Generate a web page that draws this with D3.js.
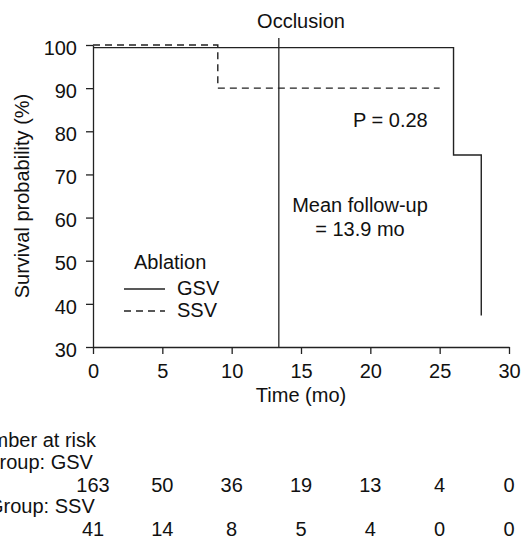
<!DOCTYPE html>
<html>
<head>
<meta charset="utf-8">
<script src="https://cdn.jsdelivr.net/npm/d3@7"></script>
<style>
  body { margin: 0; background: #fff; }
  svg { display: block; font-family: "Liberation Sans", Arial, Helvetica, sans-serif; }
  .axis path, .axis line { stroke: #222; stroke-width: 1.3; }
  .axis text { font-size: 20px; fill: #111; font-family: "Liberation Sans", Arial, sans-serif; }
  text { fill: #111; }
</style>
</head>
<body>
<svg class="svg"></svg>
<script>
// survival curves (time in months, survival %)
const gsvTimes = [0, 26, 28];
const gsvSurvival = [99.4, 74.5, 37.3];
const ssvTimes = [0, 9, 25];
const ssvSurvival = [100, 90, 90];

const occlusionTime = 13.4;
const xTicks = [0, 5, 10, 15, 20, 25, 30];
const yTicks = [30, 40, 50, 60, 70, 80, 90, 100];

const riskGroups = ['Group: GSV', 'Group: SSV'];
const riskGsv = [163, 50, 36, 19, 13, 4, 0];
const riskSsv = [41, 14, 8, 5, 4, 0, 0];

let width = 522;
let height = 543;
let padding = {
    top: 45,
    right: 13,
    left: 93,
    plotBottom: 347
}

const svg = d3.select('.svg')
    .attr('width', width)
    .attr('height', height);

/* SCALES */
const xScale = d3.scaleLinear()
    .domain([0, 30])
    .range([padding.left, width - padding.right]);
const yScale = d3.scaleLinear()
    .domain([30, 100])
    .range([padding.plotBottom, padding.top]);

const xAxis = d3.axisBottom(xScale)
    .tickValues(xTicks)
    .tickSize(7)
    .tickSizeOuter(0)
    .tickPadding(10);
const yAxis = d3.axisLeft(yScale)
    .tickValues(yTicks)
    .tickSize(7)
    .tickSizeOuter(0)
    .tickPadding(9);

svg.append('g')
    .attr('class', 'axis')
    .attr('transform', `translate(0, ${padding.plotBottom})`)
    .call(xAxis);

const gy = svg.append('g')
    .attr('class', 'axis')
    .attr('transform', `translate(${padding.left}, 0)`)
    .call(yAxis);
gy.selectAll('text').attr('dy', '0.46em');

/* axis titles */
svg.append('text')
    .attr('transform', `translate(29, ${(padding.top + padding.plotBottom) / 2}) rotate(-90)`)
    .attr('text-anchor', 'middle')
    .style('font-size', '20px')
    .text('Survival probability (%)');

svg.append('text')
    .attr('x', (xScale(0) + xScale(30)) / 2)
    .attr('y', 402)
    .attr('text-anchor', 'middle')
    .style('font-size', '20px')
    .text('Time (mo)');

/* occlusion line */
svg.append('line')
    .attr('x1', xScale(occlusionTime))
    .attr('x2', xScale(occlusionTime))
    .attr('y1', yScale(30))
    .attr('y2', yScale(101.6))
    .attr('stroke', '#333')
    .attr('stroke-width', 1.4);

svg.append('text')
    .attr('x', (xScale(0) + xScale(30)) / 2)
    .attr('y', 28)
    .attr('text-anchor', 'middle')
    .style('font-size', '20px')
    .text('Occlusion');

/* curves */
const line = d3.line()
    .x(d => xScale(d[0]))
    .y(d => yScale(d[1]))
    .curve(d3.curveStepAfter);

svg.append('path')
    .datum(d3.zip(gsvTimes, gsvSurvival))
    .attr('d', line)
    .attr('fill', 'none')
    .attr('stroke', '#222')
    .attr('stroke-width', 1.4);

svg.append('path')
    .datum(d3.zip(ssvTimes, ssvSurvival))
    .attr('d', line)
    .attr('fill', 'none')
    .attr('stroke', '#222')
    .attr('stroke-width', 1.4)
    .attr('stroke-dasharray', '7,5');

/* annotations */
svg.append('text')
    .attr('x', 353)
    .attr('y', 127)
    .style('font-size', '20px')
    .text('P = 0.28');

svg.append('text')
    .attr('x', 360)
    .attr('y', 212)
    .attr('text-anchor', 'middle')
    .style('font-size', '20px')
    .text('Mean follow-up');
svg.append('text')
    .attr('x', 360)
    .attr('y', 236)
    .attr('text-anchor', 'middle')
    .style('font-size', '20px')
    .text('= 13.9 mo');

/* legend */
const legend = svg.append('g');
legend.append('text')
    .attr('x', 134)
    .attr('y', 269)
    .style('font-size', '20px')
    .text('Ablation');
[['GSV', null, 289], ['SSV', '7,5', 311]].forEach(([name, dash, y]) => {
    legend.append('line')
        .attr('x1', 124).attr('x2', 165)
        .attr('y1', y).attr('y2', y)
        .attr('stroke', '#222')
        .attr('stroke-width', 1.4)
        .attr('stroke-dasharray', dash);
    legend.append('text')
        .attr('x', 177)
        .attr('y', y + 6)
        .style('font-size', '20px')
        .text(name);
});

/* number at risk table */
const risk = svg.append('g').style('font-size', '20px');
risk.append('text')
    .attr('x', -34)
    .attr('y', 447)
    .text('Number at risk');
[[riskGroups[0], riskGsv, 469, -16], [riskGroups[1], riskSsv, 513, -12]].forEach(([label, values, y, lx]) => {
    risk.append('text')
        .attr('x', lx)
        .attr('y', y)
        .text(label);
    risk.selectAll(null)
        .data(values).enter()
        .append('text')
        .attr('x', (d, i) => xScale(xTicks[i]))
        .attr('y', y + 23)
        .attr('text-anchor', 'middle')
        .text(d => d);
});
</script>
</body>
</html>
